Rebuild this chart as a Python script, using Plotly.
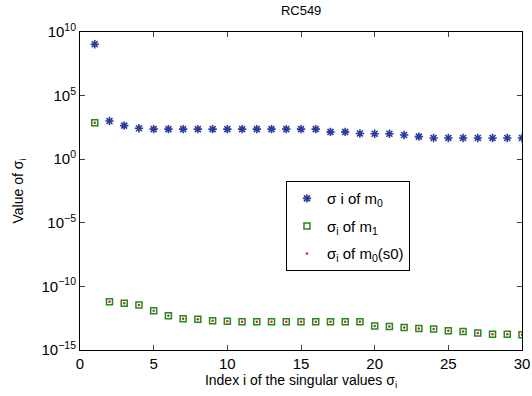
import plotly.graph_objects as go

idx = list(range(1, 31))
sigma_m0 = [1.1e9, 1.0e3, 4.4e2, 2.7e2, 2.3e2, 2.3e2, 2.3e2, 2.3e2, 2.3e2, 2.3e2,
            2.3e2, 2.3e2, 2.3e2, 2.3e2, 2.3e2, 2.3e2, 1.4e2, 1.4e2, 1.05e2, 1.0e2,
            1.0e2, 8.0e1, 5.9e1, 4.7e1, 4.7e1, 4.7e1, 4.7e1, 4.7e1, 4.7e1, 4.7e1]
sigma_m1 = [7.5e2, 6.3e-12, 4.7e-12, 3.5e-12, 1.2e-12, 5.0e-13, 2.9e-13, 2.6e-13, 2.0e-13, 1.8e-13,
            1.7e-13, 1.7e-13, 1.7e-13, 1.7e-13, 1.7e-13, 1.7e-13, 1.7e-13, 1.7e-13, 1.7e-13, 7.8e-14,
            6.9e-14, 6.0e-14, 5.0e-14, 4.5e-14, 3.3e-14, 2.8e-14, 2.2e-14, 1.7e-14, 1.7e-14, 1.6e-14]
sigma_m0_s0 = list(sigma_m1)

x_ticks = [0, 5, 10, 15, 20, 25, 30]
y_tickvals = [1e-15, 1e-10, 1e-5, 1e0, 1e5, 1e10]
y_ticktext = ["10<sup>−15</sup>", "10<sup>−10</sup>", "10<sup>−5</sup>",
              "10<sup>0</sup>", "10<sup>5</sup>", "10<sup>10</sup>"]

font = "Liberation Sans, Arial, sans-serif"

fig = go.Figure()
fig.add_trace(go.Scatter(x=idx, y=sigma_m0, mode="markers", name="σ i of m<sub>0</sub>",
                         legendgroup="a",
                         marker=dict(symbol="asterisk-open", size=7, color="#2b3c9e",
                                     line=dict(color="#2b3c9e", width=1.6))))
fig.add_trace(go.Scatter(x=idx, y=sigma_m1, mode="markers", name="σ<sub>i</sub> of m<sub>1</sub>",
                         legendgroup="b",
                         marker=dict(symbol="square-open", size=6, color="#1f8a1f",
                                     line=dict(color="#1f8a1f", width=1.5))))
fig.add_trace(go.Scatter(x=idx, y=sigma_m0_s0, mode="markers", name="σ<sub>i</sub> of m<sub>0</sub>(s0)",
                         legendgroup="c",
                         marker=dict(symbol="circle", size=2.5, color="#e02020")))

fig.update_layout(
    width=532, height=396,
    margin=dict(l=80, r=10, t=32, b=46, autoexpand=False),
    paper_bgcolor="white", plot_bgcolor="white",
    font=dict(family=font, size=13, color="black"),
    title=dict(text="RC549", x=0.566, xanchor="center", y=0.985, yanchor="top",
               font=dict(size=13)),
    showlegend=True,
    legend=dict(x=0.466, y=0.531, xanchor="left", yanchor="top",
                bordercolor="black", borderwidth=1, bgcolor="white",
                font=dict(size=15), tracegroupgap=5, itemsizing="trace",
                itemwidth=30),
    xaxis=dict(range=[0, 30], tickvals=x_ticks, ticks="inside", ticklen=5,
               showline=True, linecolor="black", linewidth=1, mirror="ticks",
               showgrid=False, zeroline=False, tickfont=dict(size=15), automargin=False,
               title=dict(text="Index i of the singular values σ<sub>i</sub>", standoff=1,
                          font=dict(size=14))),
    yaxis=dict(type="log", range=[-15, 10], tickvals=y_tickvals, ticktext=y_ticktext,
               ticks="inside", ticklen=5, automargin=True,
               showline=True, linecolor="black", linewidth=1, mirror="ticks",
               showgrid=False, zeroline=False, tickfont=dict(size=15),
               title=dict(text="Value of σ<sub>i</sub>", standoff=14, font=dict(size=14))),
)

fig.write_html("out.html", config={"displayModeBar": False},
               post_script="document.body.style.margin='0';")
